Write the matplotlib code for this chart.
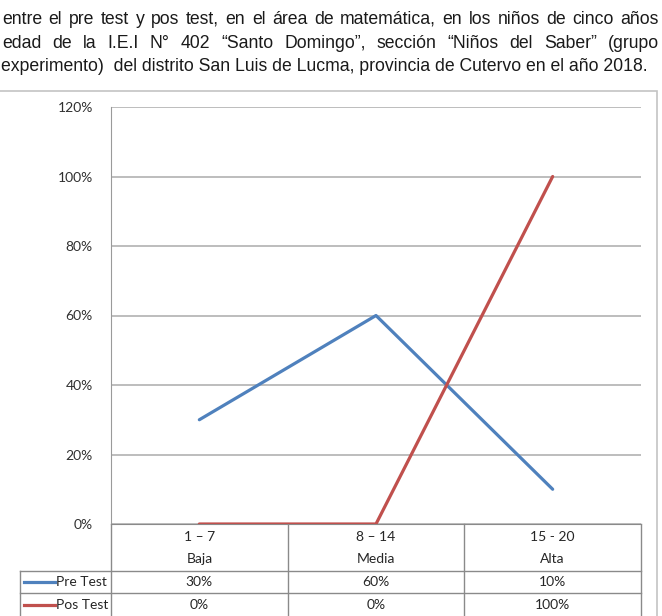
import matplotlib
matplotlib.use('Agg')
import matplotlib.pyplot as plt
from matplotlib.lines import Line2D
from matplotlib.patches import Rectangle
from matplotlib.ticker import PercentFormatter
import numpy as np

# datos del grafico
rangos = ['1 – 7', '8 – 14', '15 - 20']
niveles = ['Baja', 'Media', 'Alta']
series = ['Pre Test', 'Pos Test']
pre_test = [0.30, 0.60, 0.10]
pos_test = [0.00, 0.00, 1.00]
valores = [pre_test, pos_test]
colores = ['#4F81BD', '#C0504D']
y_ticks = [0, 0.2, 0.4, 0.6, 0.8, 1.0, 1.2]

# texto del documento sobre el grafico
parrafo = [
    'entre el pre test y pos test, en el área de matemática, en los niños de cinco años',
    'edad de la I.E.I N° 402 “Santo Domingo”, sección “Niños del Saber”  (grupo',
    'experimento)  del distrito San Luis de Lucma, provincia de Cutervo en el año 2018.',
]

W, H = 662, 616
fig = plt.figure(figsize=(W / 100, H / 100), dpi=100)
fig.patch.set_facecolor('white')


def fx(x):
    return x / W


def fy(y):
    return 1 - y / H


# --- parrafo justificado ---
fuente_doc = dict(family=['Liberation Sans', 'DejaVu Sans'], size=12.7, color='#1a1a1a')
bases = [24, 48, 71]
renderer = fig.canvas.get_renderer()
for i, linea in enumerate(parrafo):
    if i < len(parrafo) - 1:
        palabras = linea.split()
        objs = [fig.text(0, fy(bases[i]), p, va='baseline', ha='left', **fuente_doc) for p in palabras]
        anchos = [o.get_window_extent(renderer).width for o in objs]
        x0, x1 = 2, 659
        hueco = (x1 - x0 - sum(anchos)) / (len(palabras) - 1)
        x = x0
        for o, a in zip(objs, anchos):
            o.set_x(fx(x))
            x += a + hueco
    else:
        fig.text(fx(1), fy(bases[i]), linea, va='baseline', ha='left', **fuente_doc)

# borde del grafico
fig.add_artist(Rectangle((fx(-5), fy(640)), fx(662), fy(91) - fy(640),
                         transform=fig.transFigure, fill=False,
                         edgecolor='#c4c4c4', lw=1.2))

# --- area de trazado ---
ax = fig.add_axes([fx(111), fy(524), fx(530), fy(107) - fy(524)])
fuente = ['Lato', 'DejaVu Sans']
x = np.arange(len(rangos))
for serie, vals, col in zip(series, valores, colores):
    ax.plot(x, vals, color=col, lw=2.3, solid_capstyle='round', zorder=3)

ax.set_xlim(-0.5, len(rangos) - 0.5)
ax.set_ylim(0, 1.2)
ax.set_yticks(y_ticks)
ax.yaxis.set_major_formatter(PercentFormatter(1.0, decimals=0))
ax.set_xticks([])
ax.yaxis.grid(True, color='#ababab', lw=1.1)
ax.set_axisbelow(True)
ax.tick_params(axis='y', length=0, pad=13, labelsize=10, labelcolor='#303030')
for lbl in ax.get_yticklabels():
    lbl.set_family(fuente)
for s in ['top', 'right']:
    ax.spines[s].set_visible(False)
ax.spines['left'].set_color('#9a9a9a')
ax.spines['bottom'].set_color('#8a8a8a')

# --- tabla de datos ---
tr = ax.get_xaxis_transform()
alto = 417


def ya(y):
    return (524 - y) / alto


def xd(px):
    return (px - 111) / 176.67 - 0.5


c_tabla = '#8a8a8a'
izq = xd(20)
fila1, fila2, fondo = ya(571), ya(593), ya(640)
for xv in np.arange(-0.5, len(rangos), 1.0):
    ax.add_line(Line2D([xv, xv], [0, fondo], transform=tr, color=c_tabla, lw=1, clip_on=False))
ax.add_line(Line2D([izq, izq], [fila1, fondo], transform=tr, color=c_tabla, lw=1, clip_on=False))
for yv in [fila1, fila2]:
    ax.add_line(Line2D([izq, len(rangos) - 0.5], [yv, yv], transform=tr, color=c_tabla, lw=1, clip_on=False))

txt = dict(transform=tr, ha='center', va='center', fontsize=10, family=fuente, color='#262626', clip_on=False)
for i in range(len(rangos)):
    ax.text(i, ya(537), rangos[i], **txt)
    ax.text(i, ya(559), niveles[i], **txt)

centros = [ya(582), ya(605)]
for serie, vals, col, yc in zip(series, valores, colores, centros):
    for i, v in enumerate(vals):
        ax.text(i, yc, f'{v:.0%}', **txt)
    ax.add_line(Line2D([xd(24), xd(55)], [yc, yc], transform=tr, color=col, lw=2.3, clip_on=False))
    ax.text(xd(56), yc, serie, transform=tr, ha='left', va='center', fontsize=10,
            family=fuente, color='#262626', clip_on=False)

fig.savefig('out.png', dpi=100)
